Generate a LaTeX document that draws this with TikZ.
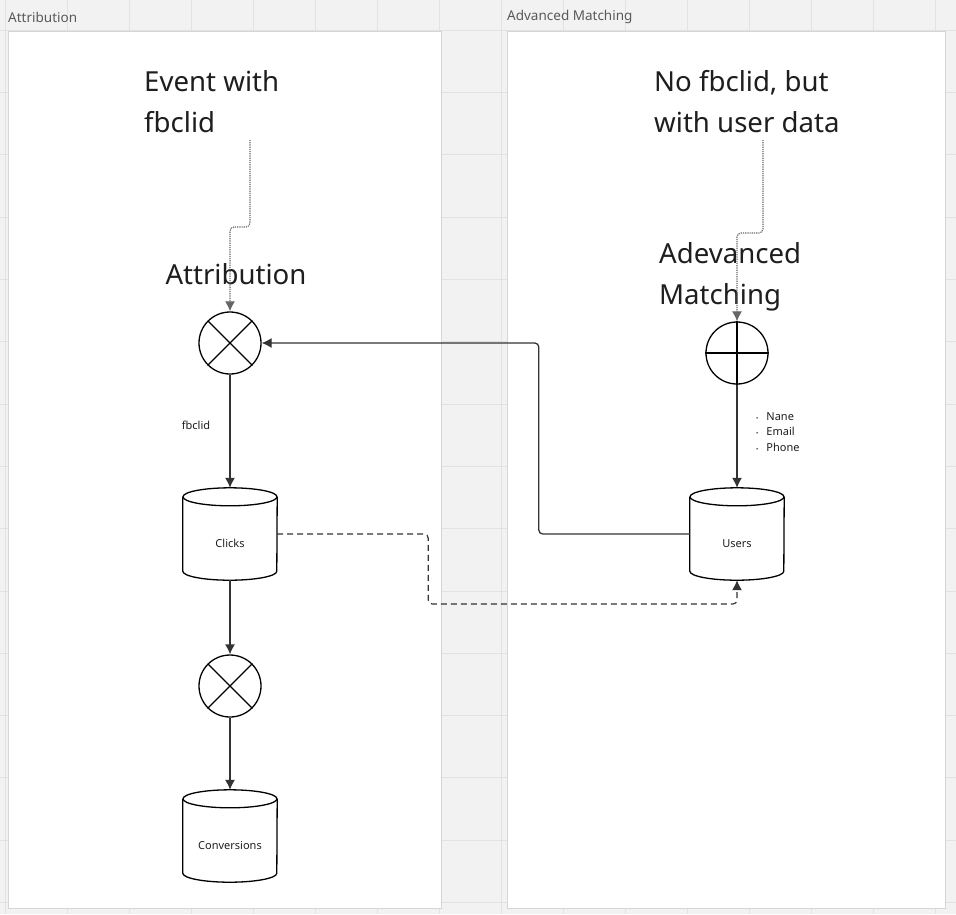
\documentclass[tikz,border=0pt]{standalone}
\usepackage{fontspec}
\setmainfont{Noto Sans}
\usetikzlibrary{arrows.meta}

\definecolor{canvas}{HTML}{F2F2F2}
\definecolor{gridln}{HTML}{E2E2E2}
\definecolor{frameln}{HTML}{D6D6D6}
\definecolor{ink}{HTML}{1E1E1E}
\definecolor{wire}{HTML}{333333}

\tikzset{
  big/.style={font=\fontsize{27.6}{40.5}\selectfont, text=ink, align=left, inner sep=0pt},
  small/.style={font=\fontsize{11}{15.5}\selectfont, text=ink, inner sep=0pt},
  paneltitle/.style={font=\fontsize{13.5}{16}\selectfont, text=black!65, anchor=west, inner sep=0pt},
  mixer/.style={circle, draw=black, line width=1.3pt, fill=white, minimum size=62pt, inner sep=0pt},
  mark lines/.style={black, line width=1.1pt},
  store/.style={minimum width=94pt, minimum height=92pt, inner sep=0pt, text height=28pt, font=\fontsize{11}{13}\selectfont, text=ink},
  flow/.style={draw=wire, line width=1.3pt, -{Latex[length=10pt,width=10pt]}, rounded corners=4pt},
  feed/.style={draw=black!60, line width=1.2pt, densely dotted, -{Latex[length=10pt,width=10pt]}, rounded corners=4pt},
  link/.style={draw=wire, line width=1.2pt, dash pattern=on 6pt off 4pt, -{Latex[length=10pt,width=10pt]}, rounded corners=4pt}
}

\begin{document}
\begin{tikzpicture}[x=1pt, y=1pt]
    \fill[canvas] (0,0) rectangle (956,-914);
    \useasboundingbox (0,0) rectangle (956,-914);

    \foreach \x in {5,67,...,935}
    \draw[gridln] (\x,0) -- (\x,-914);
    \foreach \y in {30,92.3,...,910}
    \draw[gridln] (0,-\y) -- (956,-\y);

    % panels
    \draw[frameln, fill=white] (8,-31) rectangle (441,-908);
    \draw[frameln, fill=white] (507,-31) rectangle (945,-908);
    \node[paneltitle] (t1) at (8,-17) {Attribution};
    \node[paneltitle] (t2) at (507,-17) {Advanced Matching};

    % attribution side
    \node[big, anchor=west] (evt) at (144,-101.5) {Event with\\fbclid};
    \coordinate (evtout) at (250,-140);
    \node[big] (attr) at (236,-274) {Attribution};
    \node[mixer] (j1) at (230,-343) {};
    \draw[mark lines] (j1.north west) -- (j1.south east) (j1.north east) -- (j1.south west);
    \node[small] (fb) at (196,-425) {fbclid};
    \node[store] (clicks) at (230,-534) {Clicks};
    \node[mixer] (j2) at (230,-686) {};
    \draw[mark lines] (j2.north west) -- (j2.south east) (j2.north east) -- (j2.south west);
    \node[store] (conv) at (230,-836) {Conversions};

    % matching side
    \node[big, anchor=west] (nofb) at (654,-101.5) {No fbclid, but\\with user data};
    \coordinate (nofbout) at (763,-140);
    \node[big, anchor=west] (adv) at (659,-277) {Adevanced\\Matching};
    \node[mixer] (m1) at (737,-353) {};
    \draw[mark lines] (m1.north) -- (m1.south) (m1.west) -- (m1.east);
    \node[small, anchor=west, align=left] (keys) at (756,-432)
      {{\fontsize{6}{6}\selectfont•}\hspace{8pt}Nane\\{\fontsize{6}{6}\selectfont•}\hspace{8pt}Email\\{\fontsize{6}{6}\selectfont•}\hspace{8pt}Phone};
    \node[store] (users) at (737,-534) {Users};

    % cylinders
    \foreach \n in {clicks,conv,users}{
      \draw[black, line width=1.3pt] ([yshift=-9pt]\n.north west) -- ([yshift=9pt]\n.south west)
        arc[start angle=180, end angle=360, x radius=47pt, y radius=9pt] -- ([yshift=-9pt]\n.north east);
      \draw[black, line width=1.3pt] ([yshift=-9pt]\n.north) ellipse [x radius=47pt, y radius=9pt];
    }

    % connectors
    \draw[feed] (evtout) -- ++(0,-87) -| (j1.north);
    \draw[feed] (nofbout) -- ++(0,-93) -| (m1.north);
    \draw[flow] (j1.south) -- (clicks.north);
    \draw[flow] (clicks.south) -- (j2.north);
    \draw[flow] (j2.south) -- (conv.north);
    \draw[flow] (m1.south) -- (users.north);
    \draw[flow] (users.west) -- ++(-151,0) |- (j1.east);
    \draw[link] (clicks.east) -- ++(151,0) -- ++(0,-70) -| (users.south);

  \end{tikzpicture}
\end{document}
